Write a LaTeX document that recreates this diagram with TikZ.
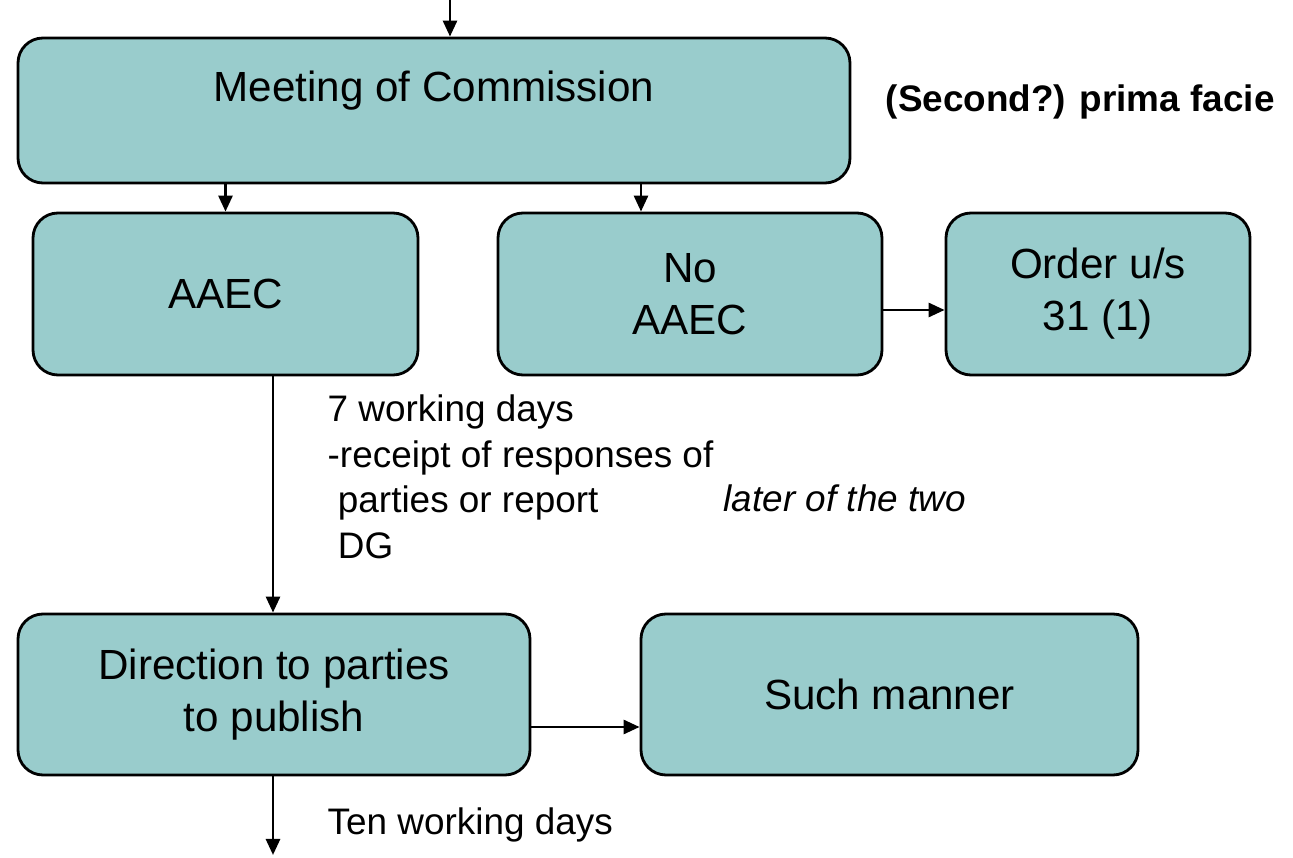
\documentclass[tikz,border=0pt]{standalone}
\usepackage{fontspec}
\setmainfont{Liberation Sans}
\usetikzlibrary{arrows.meta}
\definecolor{boxfill}{HTML}{99CCCC}

\begin{document}
\begin{tikzpicture}[
  box/.style={draw, line width=0.8pt, rounded corners=0.25cm, fill=boxfill, align=center, inner sep=0pt, font=\fontsize{12}{14.8}\selectfont},
  arr/.style={-{Triangle[length=1.6mm,width=1.4mm]}, line width=0.8pt},
  note/.style={inner sep=0pt, font=\fontsize{10.5}{13}\selectfont}]
\useasboundingbox (0,0) rectangle (12.93,-8.58);
\node[box, minimum width=8.32cm, minimum height=1.45cm, text depth=0.48cm] (meet) at (4.34,-1.105) {Meeting of Commission};
\node[box, minimum width=3.85cm, minimum height=1.62cm] (aaec) at (2.255,-2.94) {AAEC};
\node[box, minimum width=3.84cm, minimum height=1.62cm] (noaaec) at (6.90,-2.94) {No\\AAEC};
\node[box, minimum width=3.04cm, minimum height=1.62cm] (order) at (10.98,-2.94) {Order u/s\\31 (1)};
\node[box, minimum width=5.12cm, minimum height=1.61cm] (dir) at (2.74,-6.945) {Direction to parties\\to publish};
\node[box, minimum width=4.97cm, minimum height=1.61cm] (such) at (8.895,-6.945) {Such manner};
\node[note, anchor=west, font=\fontsize{10.5}{13}\selectfont\bfseries] (prima) at (8.85,-1.02) {(Second?) prima facie};
\node[note, anchor=north west, align=left] (days) at (3.27,-3.94) {7 working days\\-receipt of responses of\\\ parties or report\\\ DG};
\node[note, anchor=west, font=\fontsize{10.5}{13}\selectfont\itshape] (later) at (7.23,-4.98) {later of the two};
\node[note, anchor=west] (ten) at (3.27,-8.25) {Ten working days};
\coordinate (top) at (4.50,0);
\coordinate (split) at (6.41,0);
\coordinate (hz) at (0,-3.10);
\coordinate (hz2) at (0,-7.27);
\coordinate (bot) at (2.73,-8.55);
\draw[arr] (top) -- (top |- meet.north);
\draw[arr] (aaec.north |- meet.south) -- (aaec.north);
\draw[arr] (split |- meet.south) -- (split |- noaaec.north);
\draw[arr] (noaaec.east |- hz) -- (order.west |- hz);
\draw[arr] (bot |- aaec.south) -- (bot |- dir.north);
\draw[arr] (dir.east |- hz2) -- (such.west |- hz2);
\draw[arr] (bot |- dir.south) -- (bot);
\end{tikzpicture}
\end{document}
